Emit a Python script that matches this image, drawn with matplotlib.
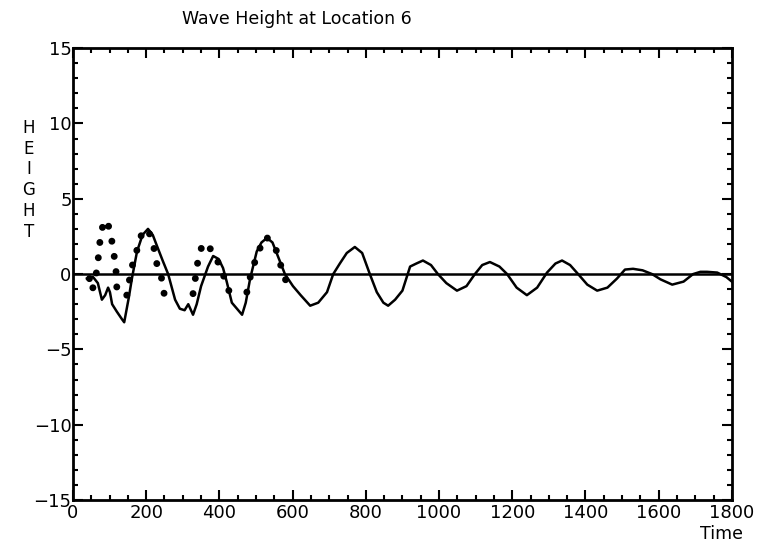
import matplotlib
matplotlib.use("Agg")
import matplotlib.pyplot as plt
import numpy as np
from matplotlib.ticker import MultipleLocator

# computed wave height (solid line)
t_model = [38, 55, 68, 79, 88, 96, 101, 107, 120, 134, 140, 153, 161, 175, 190, 205,
           218, 229, 245, 260, 279, 292, 305, 315, 328, 338, 350, 369, 383, 398, 410,
           420, 434, 448, 462, 472, 484, 502, 515, 530, 545, 558, 579, 601, 622, 648,
           670, 694, 711, 729, 748, 770, 790, 811, 830, 848, 861, 880, 900, 921, 938,
           956, 978, 997, 1020, 1049, 1075, 1098, 1118, 1139, 1165, 1186, 1212, 1240,
           1268, 1295, 1318, 1336, 1358, 1380, 1405, 1432, 1460, 1486, 1508, 1530,
           1556, 1582, 1605, 1637, 1668, 1694, 1714, 1732, 1760, 1785, 1800]
h_model = [-0.3, -0.2, -0.6, -1.7, -1.4, -0.9, -1.2, -2.0, -2.5, -3.0, -3.2, -1.5,
           -0.3, 1.5, 2.6, 3.0, 2.6, 1.9, 0.9, 0.0, -1.7, -2.3, -2.4, -2.0, -2.7, -2.0,
           -0.8, 0.5, 1.2, 1.0, 0.4, -0.5, -1.9, -2.3, -2.7, -1.9, -0.3, 1.5, 2.1, 2.4,
           2.1, 1.3, 0.0, -0.8, -1.4, -2.1, -1.9, -1.2, 0.0, 0.7, 1.4, 1.8, 1.4, 0.0,
           -1.2, -1.9, -2.1, -1.7, -1.1, 0.5, 0.7, 0.9, 0.6, 0.0, -0.6, -1.1, -0.8,
           0.0, 0.6, 0.8, 0.5, 0.0, -0.9, -1.4, -0.9, 0.1, 0.7, 0.9, 0.6, 0.0, -0.7,
           -1.1, -0.9, -0.3, 0.3, 0.35, 0.25, 0.0, -0.35, -0.7, -0.5, 0.0, 0.15, 0.15,
           0.1, -0.2, -0.5]

# measured wave height (dotted line), NaN where no points are drawn
t_meas = [45, 51, 60, 68, 76, 84, 90, 97, 103, 110, 117, 120, np.nan,
          147, 155, 161, 172, 178, 191, 205, 215, 224, 229, 240, 249, np.nan,
          328, 333, 339, 344, 352, 361, 372, 385, 396, 407, 418, 432, np.nan,
          475, 482, 492, 505, 515, 527, 542, 557, 566, 579, 588]
h_meas = [-0.3, -1.1, -0.6, 0.8, 2.7, 3.4, 3.6, 3.2, 2.7, 1.6, 0.5, -1.0, np.nan,
          -1.4, -0.3, 0.5, 1.2, 2.1, 2.8, 3.0, 2.2, 1.5, 0.7, 0.0, -1.3, np.nan,
          -1.3, -0.5, 0.5, 1.3, 1.8, 2.1, 1.8, 1.3, 0.8, 0.3, -0.7, -1.4, np.nan,
          -1.2, -0.4, 0.5, 1.3, 2.0, 2.5, 2.1, 1.5, 0.7, -0.2, -1.1]

x_ticks = [0, 200, 400, 600, 800, 1000, 1200, 1400, 1600, 1800]
y_ticks = [-15, -10, -5, 0, 5, 10, 15]

fig = plt.figure(figsize=(7.6, 5.45), dpi=100)
ax = fig.add_axes([0.096, 0.0826, 0.867, 0.829])

ax.axhline(0, color="black", lw=1.8)
ax.plot(t_model, h_model, color="black", lw=1.8)
ax.plot(t_meas, h_meas, color="black", lw=5,
        linestyle=(0, (0.01, 2.2)), dash_capstyle="round")

ax.set_xlim(0, 1800)
ax.set_ylim(-15, 15)
ax.set_xticks(x_ticks)
ax.set_yticks(y_ticks)
ax.set_xticklabels([str(v) for v in x_ticks])
ax.set_yticklabels([str(v).replace("-", "\u2212") for v in y_ticks])
ax.xaxis.set_minor_locator(MultipleLocator(50))
ax.yaxis.set_minor_locator(MultipleLocator(1))
ax.tick_params(which="both", direction="in", top=True, right=True,
               labelsize=13, width=1.5)
ax.tick_params(axis="x", pad=3)
ax.tick_params(axis="y", pad=1)
ax.tick_params(which="major", length=7)
ax.tick_params(which="minor", length=3.5)
for s in ax.spines.values():
    s.set_linewidth(2)

fig.text(0.39, 0.966, "Wave Height at Location 6", ha="center", va="center",
         fontsize=12.5)
fig.text(0.038, 0.67, "H\nE\nI\nG\nH\nT", ha="center", va="center",
         fontsize=12, linespacing=1.2)
fig.text(0.95, 0.02, "Time", ha="center", va="center", fontsize=12.5)

fig.savefig("out.png", dpi=100)
